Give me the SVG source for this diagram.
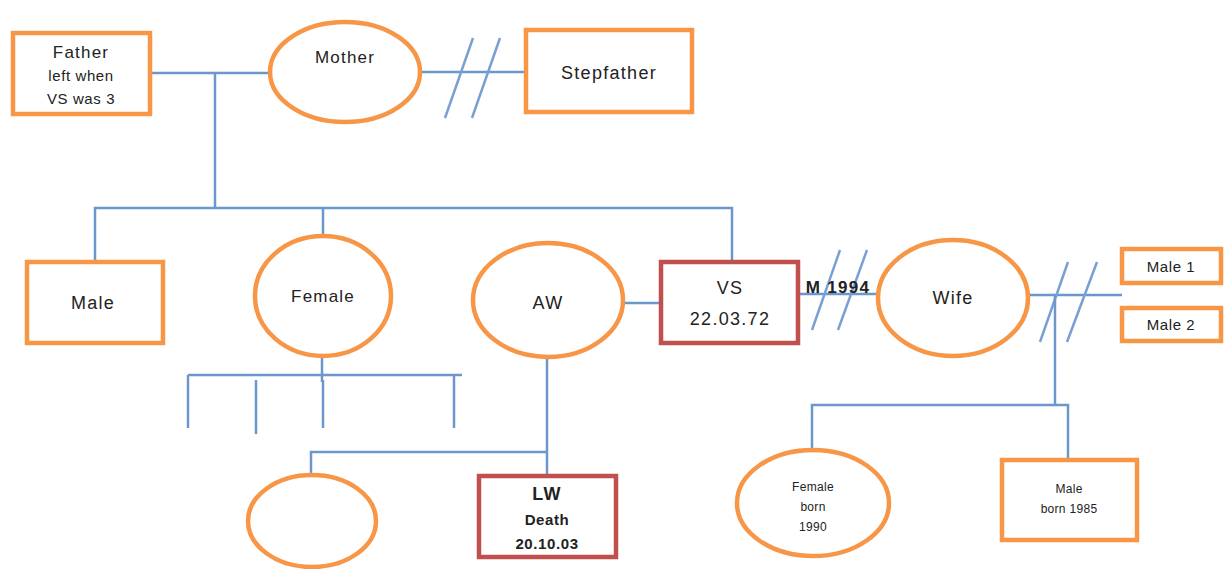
<svg xmlns="http://www.w3.org/2000/svg" width="1224" height="569" viewBox="0 0 1224 569">
<style>
.o{fill:#fff;stroke:#F79646;stroke-width:4.5}
.r{fill:#fff;stroke:#C0504D;stroke-width:4.5}
.c line,.c polyline{stroke:#6C97CC;stroke-width:2.5;fill:none}
.c .s{stroke-width:2.5;stroke:#7AA0D2}
text{font-family:"Liberation Sans",Arial,sans-serif;fill:#222;text-anchor:middle}
.t16{font-size:17px;letter-spacing:1.2px}
.t15{font-size:15px;letter-spacing:0.6px}
.t18{font-size:18px;letter-spacing:1.3px}
.sm{font-size:12px;letter-spacing:0.3px}
.b{font-weight:bold}
</style>
<g class="c" id="connectors">
<line x1="150" y1="73" x2="270" y2="73"/>
<line x1="215" y1="73" x2="215" y2="208"/>
<line x1="420" y1="72" x2="527" y2="72"/>
<line class="s" x1="473" y1="38" x2="445" y2="118"/>
<line class="s" x1="500" y1="38" x2="472" y2="118"/>
<polyline points="95,262 95,208 732,208 732,262"/>
<line x1="323" y1="208" x2="323" y2="236"/>
<line x1="624" y1="303" x2="660" y2="303"/>
<line x1="798" y1="294" x2="879" y2="294"/>
<line class="s" x1="840" y1="250" x2="812" y2="330"/>
<line class="s" x1="867" y1="250" x2="838" y2="330"/>
<line x1="1028" y1="295" x2="1122" y2="295"/>
<line class="s" x1="1068" y1="262" x2="1040" y2="342"/>
<line class="s" x1="1097" y1="262" x2="1067" y2="342"/>
<line x1="1055" y1="295" x2="1055" y2="405"/>
<polyline points="812,450 812,405 1068,405 1068,458"/>
<line x1="322" y1="356" x2="322" y2="382"/>
<line x1="188" y1="375" x2="462" y2="375"/>
<line x1="188" y1="375" x2="188" y2="428"/>
<line x1="256" y1="380" x2="256" y2="434"/>
<line x1="323" y1="380" x2="323" y2="428"/>
<line x1="454" y1="375" x2="454" y2="428"/>
<line x1="547" y1="357" x2="547" y2="475"/>
<polyline points="311,475 311,452 547,452"/>
</g>
<g id="father"><rect class="o" x="13" y="33" width="137" height="81"/>
<text class="t16" x="81" y="58">Father</text>
<text class="t15" x="81" y="81">left when</text>
<text class="t15" x="81" y="104">VS was 3</text></g>
<g id="mother"><ellipse class="o" cx="345" cy="72" rx="75" ry="50"/>
<text class="t16" x="345" y="63">Mother</text></g>
<g id="stepfather"><rect class="o" x="526" y="30" width="166" height="82"/>
<text class="t18" x="609" y="79">Stepfather</text></g>
<g id="male"><rect class="o" x="27" y="262" width="136" height="81"/>
<text class="t18" x="93" y="309">Male</text></g>
<g id="female"><ellipse class="o" cx="323" cy="296" rx="68" ry="60"/>
<text class="t16" x="323" y="302">Female</text></g>
<g id="aw"><ellipse class="o" cx="548" cy="300" rx="75" ry="57"/>
<text class="t18" x="548" y="309">AW</text></g>
<g id="vs"><rect class="r" x="661" y="262" width="137" height="81"/>
<text class="t18" x="730" y="294">VS</text>
<text class="t18" x="730" y="325">22.03.72</text></g>
<text class="b" x="838" y="293" style="font-size:17px;letter-spacing:1.3px">M 1994</text>
<g id="wife"><ellipse class="o" cx="953" cy="298" rx="75" ry="58"/>
<text class="t18" x="953" y="304">Wife</text></g>
<g id="male1"><rect class="o" x="1122" y="249" width="99" height="34"/>
<text class="t15" x="1171" y="272">Male 1</text></g>
<g id="male2"><rect class="o" x="1122" y="308" width="99" height="33"/>
<text class="t15" x="1171" y="330">Male 2</text></g>
<g id="empty"><ellipse class="o" cx="312" cy="521" rx="64" ry="46"/></g>
<g id="lw"><rect class="r" x="479" y="476" width="137" height="81"/>
<text class="t18 b" x="547" y="500">LW</text>
<text class="t15 b" x="547" y="525">Death</text>
<text class="t15 b" x="547" y="549">20.10.03</text></g>
<g id="female1990"><ellipse class="o" cx="813" cy="503" rx="76" ry="53"/>
<text class="sm" x="813" y="491">Female</text>
<text class="sm" x="813" y="511">born</text>
<text class="sm" x="813" y="531">1990</text></g>
<g id="male1985"><rect class="o" x="1002" y="460" width="135" height="80"/>
<text class="sm" x="1069" y="493">Male</text>
<text class="sm" x="1069" y="513">born 1985</text></g>
</svg>
